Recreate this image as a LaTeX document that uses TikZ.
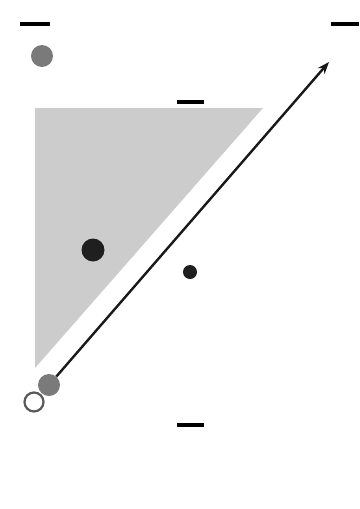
\documentclass[tikz,border=0pt]{standalone}
\usetikzlibrary{arrows.meta}
\begin{document}
\begin{tikzpicture}[x=1pt,y=-1pt,
  tick/.style={line width=4.5pt},
  dotg/.style={circle,fill=black!52,inner sep=0pt,minimum size=22pt},
  ]
\useasboundingbox (0,0) rectangle (359,509);
\fill[white] (0,0) rectangle (359,509);
\fill[black!20] (35,108) -- (263,108) -- (35,368) -- cycle;
\draw[tick] (20,24) -- (50,24);
\draw[tick] (331,24) -- (359,24);
\draw[tick] (177,102) -- (204,102);
\draw[tick] (177,425) -- (204,425);
\node[dotg] (g1) at (42,56) {};
\node[circle,fill=black!88,inner sep=0pt,minimum size=23pt] (b1) at (93,250) {};
\node[circle,fill=black!88,inner sep=0pt,minimum size=14pt] (b2) at (190,272) {};
\coordinate (tip) at (329,62);
\node[circle,draw=black!65,line width=2.2pt,fill=white,inner sep=0pt,minimum size=19pt] (o1) at (34,402) {};
\node[dotg] (g2) at (49,385) {};
\draw[line width=2.4pt,black!90,-{Stealth[length=12pt,width=9pt]}] (g2) -- (tip);
\end{tikzpicture}
\end{document}
